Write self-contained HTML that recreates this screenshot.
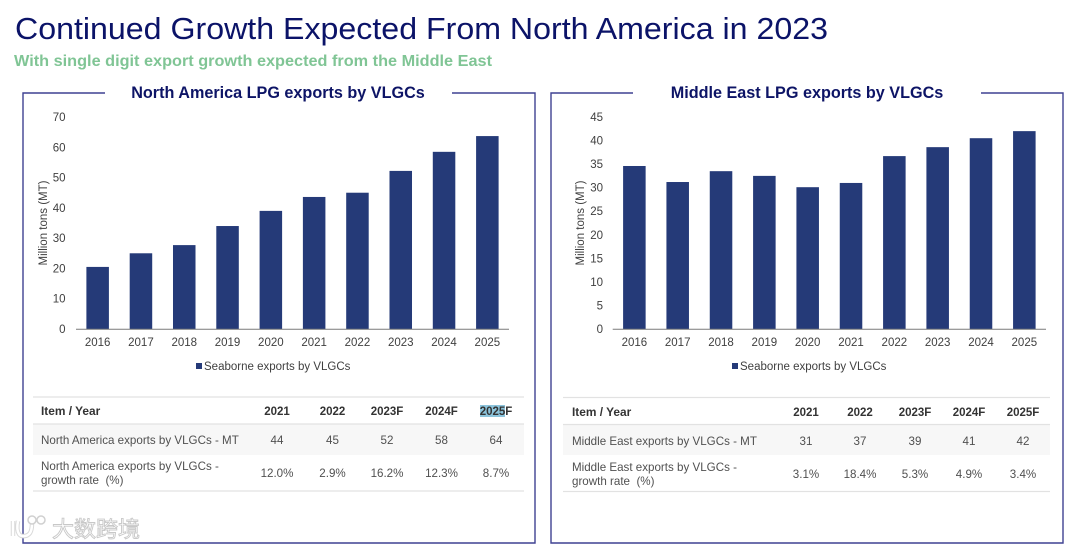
<!DOCTYPE html>
<html lang="en">
<head>
<meta charset="utf-8">
<title>Continued Growth Expected From North America in 2023</title>
<style>
html,body{margin:0;padding:0;background:#fff;width:1080px;height:549px;overflow:hidden}
svg{display:block;font-family:"Liberation Sans",sans-serif;filter:blur(0.35px)}
.tick{font-size:11.5px;fill:#404040}
.hdr{font-size:11.5px;font-weight:bold;fill:#333}
.cell{font-size:11.6px;fill:#505050}
.ptitle{font-size:16.2px;font-weight:bold;fill:#0d1466}
</style>
</head>
<body>
<svg id="slide" width="1080" height="549" viewBox="0 0 1080 549" xmlns="http://www.w3.org/2000/svg">
  <text x="15" y="39" font-size="31px" fill="#0b1368" textLength="813" lengthAdjust="spacingAndGlyphs">Continued Growth Expected From North America in 2023</text>
  <text x="14" y="66" font-size="15.5px" font-weight="bold" fill="#80c595" textLength="478" lengthAdjust="spacingAndGlyphs">With single digit export growth expected from the Middle East</text>

  <path d="M105 93H23V543H535V93H452" fill="none" stroke="#3f4192" stroke-width="1.4"/>
  <text class="ptitle" x="278" y="98" text-anchor="middle">North America LPG exports by VLGCs</text>
  <path d="M633 93H551V543H1063V93H981" fill="none" stroke="#3f4192" stroke-width="1.4"/>
  <text class="ptitle" x="807" y="98" text-anchor="middle">Middle East LPG exports by VLGCs</text>

  <g id="chart-left"></g>
  <g id="chart-right"></g>

  <g>
    <rect x="33" y="424" width="491" height="31" fill="#f7f7f7"/>
    <path d="M33 397H524M33 424H524M33 491H524" stroke="#e2e2e2" stroke-width="1.2" fill="none"/>
    <rect x="480" y="405" width="25" height="12" fill="#8cc4dc"/>
    <text class="hdr" x="41" y="415" style="font-size:11.9px">Item / Year</text>
    <text class="hdr" x="277" y="415" text-anchor="middle">2021</text>
    <text class="hdr" x="332.500" y="415" text-anchor="middle">2022</text>
    <text class="hdr" x="387" y="415" text-anchor="middle">2023F</text>
    <text class="hdr" x="441.500" y="415" text-anchor="middle">2024F</text>
    <text class="hdr" x="496" y="415" text-anchor="middle">2025F</text>
    <text class="cell" x="41" y="444">North America exports by VLGCs - MT</text>
    <text class="cell" x="277" y="444" text-anchor="middle">44</text>
    <text class="cell" x="332.500" y="444" text-anchor="middle">45</text>
    <text class="cell" x="387" y="444" text-anchor="middle">52</text>
    <text class="cell" x="441.500" y="444" text-anchor="middle">58</text>
    <text class="cell" x="496" y="444" text-anchor="middle">64</text>
    <text class="cell" x="41" y="470">North America exports by VLGCs -</text>
    <text class="cell" x="41" y="484" xml:space="preserve">growth rate  (%)</text>
    <text class="cell" x="277" y="477" text-anchor="middle">12.0%</text>
    <text class="cell" x="332.500" y="477" text-anchor="middle">2.9%</text>
    <text class="cell" x="387" y="477" text-anchor="middle">16.2%</text>
    <text class="cell" x="441.500" y="477" text-anchor="middle">12.3%</text>
    <text class="cell" x="496" y="477" text-anchor="middle">8.7%</text>
  </g>

  <g>
    <rect x="563" y="425" width="487" height="30" fill="#f7f7f7"/>
    <path d="M563 397.500H1050M563 424.500H1050M563 491.500H1050" stroke="#e2e2e2" stroke-width="1.2" fill="none"/>
    <text class="hdr" x="572" y="416" style="font-size:11.9px">Item / Year</text>
    <text class="hdr" x="806" y="416" text-anchor="middle">2021</text>
    <text class="hdr" x="860" y="416" text-anchor="middle">2022</text>
    <text class="hdr" x="915" y="416" text-anchor="middle">2023F</text>
    <text class="hdr" x="969" y="416" text-anchor="middle">2024F</text>
    <text class="hdr" x="1023" y="416" text-anchor="middle">2025F</text>
    <text class="cell" x="572" y="445">Middle East exports by VLGCs - MT</text>
    <text class="cell" x="806" y="445" text-anchor="middle">31</text>
    <text class="cell" x="860" y="445" text-anchor="middle">37</text>
    <text class="cell" x="915" y="445" text-anchor="middle">39</text>
    <text class="cell" x="969" y="445" text-anchor="middle">41</text>
    <text class="cell" x="1023" y="445" text-anchor="middle">42</text>
    <text class="cell" x="572" y="471">Middle East exports by VLGCs -</text>
    <text class="cell" x="572" y="485" xml:space="preserve">growth rate  (%)</text>
    <text class="cell" x="806" y="478" text-anchor="middle">3.1%</text>
    <text class="cell" x="860" y="478" text-anchor="middle">18.4%</text>
    <text class="cell" x="915" y="478" text-anchor="middle">5.3%</text>
    <text class="cell" x="969" y="478" text-anchor="middle">4.9%</text>
    <text class="cell" x="1023" y="478" text-anchor="middle">3.4%</text>
  </g>

  <g>
    <path d="M13 521v15M18 521c-1 5-1 10 1 13c2 3 8 3 11-1c2-3 2-7 2-10" fill="none" stroke="#d9d9d9" stroke-width="4.5"/>
    <path d="M13 521v15M18 521c-1 5-1 10 1 13c2 3 8 3 11-1c2-3 2-7 2-10" fill="none" stroke="#fff" stroke-width="2.5"/>
    <circle cx="32" cy="520" r="4" fill="#fff" stroke="#d0d0d0" stroke-width="1.5"/>
    <circle cx="41" cy="520" r="4" fill="#fff" stroke="#d0d0d0" stroke-width="1.5"/>
    <text x="52" y="537" font-size="22px" fill="#fff" stroke="#c8c8c8" stroke-width="0.9" style="font-family:'Liberation Sans','Noto Sans CJK SC',sans-serif">大数跨境</text>
  </g>
</svg>

<script>
const years = ["2016","2017","2018","2019","2020","2021","2022","2023","2024","2025"];
const northAmericaValues = [20.5,25,27.7,34,39,43.6,45,52.2,58.5,63.7];
const middleEastValues = [34.6,31.2,33.5,32.5,30.1,31,36.7,38.6,40.5,42];
const northAmericaTicks = [0,10,20,30,40,50,60,70];
const middleEastTicks = [0,5,10,15,20,25,30,35,40,45];
const legendLabel = "Seaborne exports by VLGCs";
const axisTitle = "Million tons (MT)";

const SVGNS = "http://www.w3.org/2000/svg";
function make(tag, attrs, parent, text) {
  const el = document.createElementNS(SVGNS, tag);
  for (const k in attrs) el.setAttribute(k, attrs[k]);
  if (text !== undefined) el.textContent = text;
  parent.appendChild(el);
  return el;
}
function drawChart(groupId, values, ticks, plotLeft, plotRight, tickRight, titleX, legendX) {
  const g = document.getElementById(groupId);
  const top = 117, bottom = 329;
  const maxTick = ticks[ticks.length - 1];
  const band = (plotRight - plotLeft) / years.length;
  const barW = band * 0.52;
  const xCenter = i => plotLeft + band * (i + 0.5);
  const yScale = v => bottom - (v / maxTick) * (bottom - top);

  ticks.forEach(t => {
    const el = make("text", {class:"tick", x:tickRight, y:yScale(t) + 4, "text-anchor":"end"}, g, String(t));
    
    
  });
  values.forEach((v, i) => {
    const bar = make("rect", {x:xCenter(i) - barW / 2, y:yScale(v), width:barW, height:bottom - yScale(v), fill:"#253a78"}, g);
    
    
    const lab = make("text", {class:"tick", x:xCenter(i), y:346, "text-anchor":"middle"}, g, years[i]);
    
    
  });
  const axis = make("line", {x1:plotLeft, x2:plotRight, y1:bottom + 0.3, y2:bottom + 0.3, stroke:"#7a7a7a", "stroke-width":1}, g);
  
  
  const title = make("text", {class:"tick", x:titleX, y:223, "text-anchor":"middle", transform:"rotate(-90 " + titleX + " 223)", dy:"4"}, g, axisTitle);
  
  
  const swatch = make("rect", {x:legendX, y:363, width:6, height:6, fill:"#253a78"}, g);
  
  
  const legend = make("text", {class:"tick", x:legendX + 8, y:370}, g, legendLabel);
  
  
}
drawChart("chart-left", northAmericaValues, northAmericaTicks, 76, 509, 65.5, 43, 196);
drawChart("chart-right", middleEastValues, middleEastTicks, 612.7, 1046, 603, 580, 732);
</script>
</body>
</html>
